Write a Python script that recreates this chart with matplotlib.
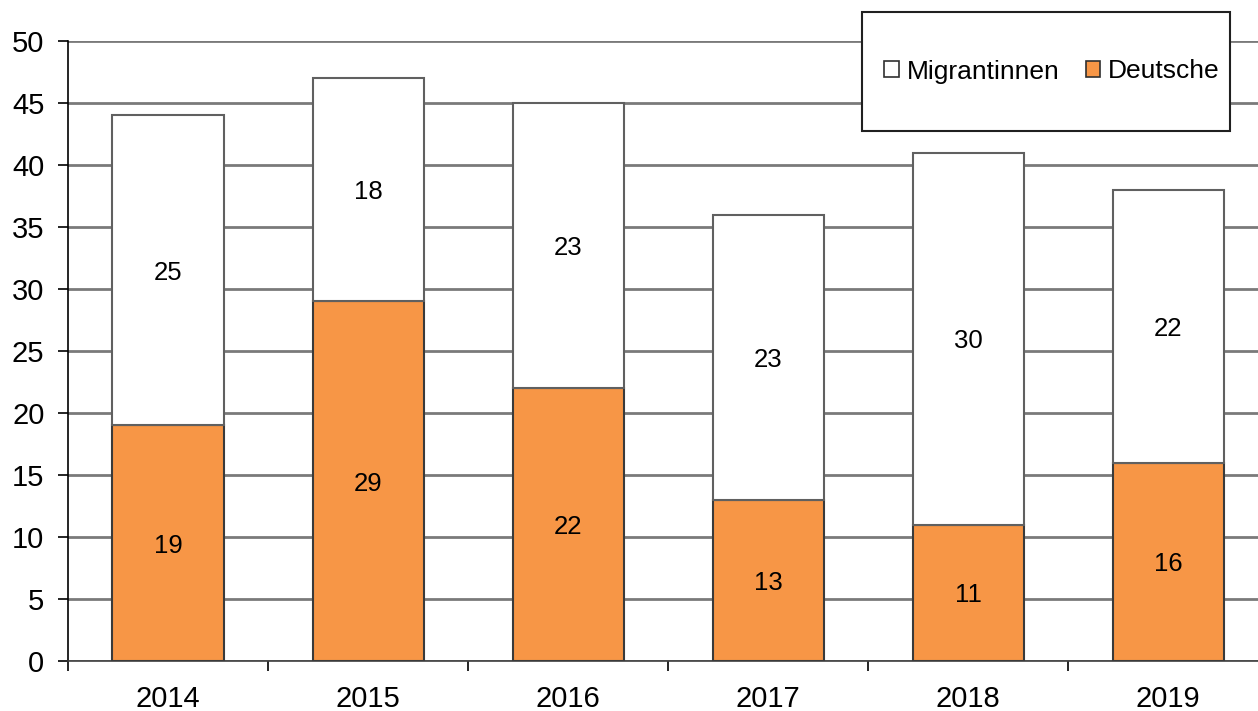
import matplotlib.pyplot as plt
from matplotlib.patches import Patch, Rectangle
import numpy as np

plt.rcParams['font.family'] = ['Liberation Sans', 'DejaVu Sans']

years = ["2014", "2015", "2016", "2017", "2018", "2019"]
deutsche = [19, 29, 22, 13, 11, 16]
migrantinnen = [25, 18, 23, 23, 30, 22]

orange = "#F79646"
edge = "#3a3a3a"

fig = plt.figure(figsize=(12.58, 7.11), dpi=100)
ax = fig.add_axes([68 / 1258, 50 / 711, 1200 / 1258, 620 / 711])

x = np.arange(len(years))
w = 0.555
ax.bar(x, deutsche, width=w, color=orange, edgecolor=edge, linewidth=1.5, zorder=3)
ax.bar(x, migrantinnen, width=w, bottom=deutsche, color="white", edgecolor="#606060",
       linewidth=1.5, zorder=3)

for i in range(len(years)):
    ax.text(x[i], deutsche[i] / 2, str(deutsche[i]), ha="center",
            va="center_baseline", fontsize=18.5, zorder=4)
    ax.text(x[i], deutsche[i] + migrantinnen[i] / 2, str(migrantinnen[i]),
            ha="center", va="center_baseline", fontsize=18.5, zorder=4)

ax.set_xlim(-0.5, len(years) - 0.5)
ax.set_ylim(0, 50)
ax.set_yticks(range(0, 51, 5))
ax.tick_params(axis="y", labelsize=21, length=7, width=1.2, pad=10)
ax.set_xticks(np.arange(-0.5, len(years), 1.0))
ax.set_xticklabels([])
ax.set_xticks(x, minor=True)
ax.set_xticklabels(years, minor=True)
ax.tick_params(axis="x", which="major", length=7, width=1.2, direction="out")
ax.tick_params(axis="x", which="minor", length=0, labelsize=21, pad=17)

ax.grid(axis="y", color="#7a7a7a", linewidth=2, zorder=0)
ax.set_axisbelow(True)
for s in ["top", "right"]:
    ax.spines[s].set_visible(False)
ax.spines["left"].set_linewidth(1.2)
ax.spines["bottom"].set_linewidth(1.2)
ax.spines["bottom"].set_color("#404040")

# legend box drawn separately, legend itself without frame
fig.patches.append(Rectangle((862 / 1258, 580 / 711), 368 / 1258, 119 / 711,
                             transform=fig.transFigure, facecolor="white",
                             edgecolor="#202020", linewidth=1.5, zorder=5))
handles = [Patch(facecolor="white", edgecolor="#303030", linewidth=1.2),
           Patch(facecolor=orange, edgecolor="#303030", linewidth=1.2)]
leg = fig.legend(handles, ["Migrantinnen", "Deutsche"], ncol=2, loc="center",
                 bbox_to_anchor=(1052 / 1258, 639.5 / 711),
                 fontsize=19, frameon=False,
                 handlelength=0.55, handleheight=0.55, handletextpad=0.3,
                 columnspacing=1.0, borderpad=0)
leg.set_zorder(6)

fig.savefig("out.png", dpi=100)
